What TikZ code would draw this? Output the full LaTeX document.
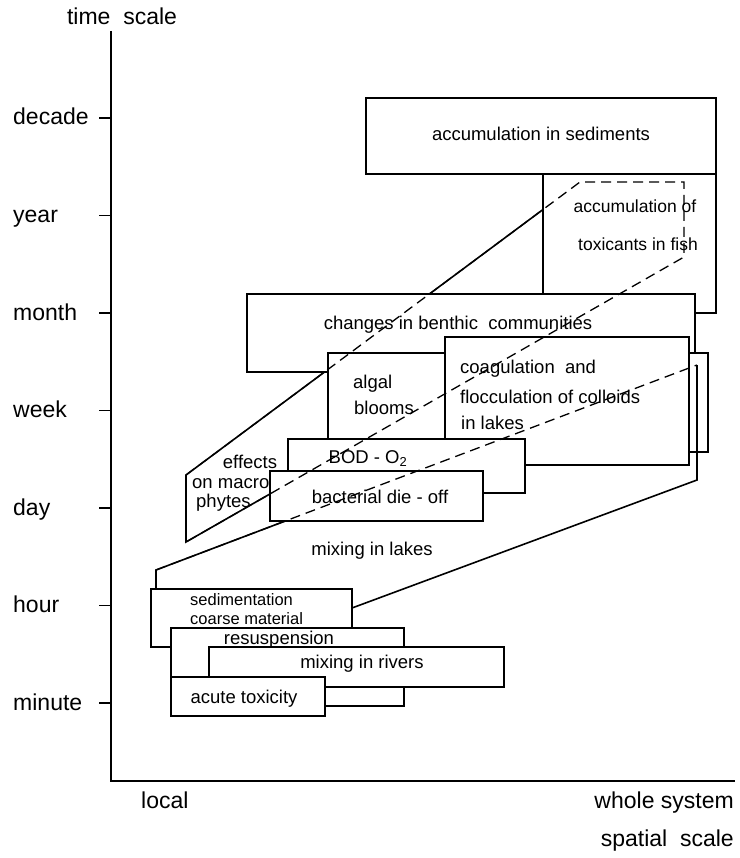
\documentclass[tikz,border=0pt]{standalone}
\usepackage{fontspec}
\setmainfont{Liberation Sans}
\begin{document}
\begin{tikzpicture}[x=1pt,y=-1pt,line join=miter,
  box/.style={draw,line width=1.6pt,fill=white},
  edge/.style={line width=1.6pt},
  hid/.style={line width=1.3pt,dash pattern=on 10pt off 6pt},
  lbl/.style={font=\fontsize{18.5}{20}\selectfont,inner sep=0pt},
  small/.style={font=\fontsize{17.5}{19}\selectfont,inner sep=0pt},
  tight/.style={font=\fontsize{16.5}{17}\selectfont,inner sep=0pt},
  axl/.style={font=\fontsize{23}{25}\selectfont,inner sep=0pt}]
\useasboundingbox (0,0) rectangle (739,858);
% axes
\coordinate (ytop) at (111,31);
\coordinate (orig) at (111,781);
\coordinate (xend) at (735,781);
\draw[edge] (ytop) -- (orig) -- (xend);
\node[axl,anchor=base] (tscale) at (122,25) {time\ \ scale};
\foreach \yy/\tt in {118/decade,215.5/year,313/month,410.5/week,508/day,605.5/hour,703/minute}{
  \coordinate (tk\tt) at (111,\yy);
  \draw[edge] (99,\yy) -- (tk\tt);
  \node[axl,anchor=base west] (lab\tt) at (13,{\yy+7}) {\tt};
}
\node[axl,anchor=base west] (local) at (141,808) {local};
\node[axl,anchor=base east] (whole) at (734,808) {whole system};
\node[axl,anchor=base east] (spatial) at (734,846) {spatial\ \ scale};
% planes (solid outline first)
\coordinate (m1) at (186,475);
\coordinate (m2) at (580,182);
\coordinate (m3) at (684,182);
\coordinate (m4) at (684,257);
\coordinate (m5) at (186,542);
\draw[edge] (m1) -- (m2) -- (m3) -- (m4) -- (m5) -- cycle;
\coordinate (l0) at (156,589);
\coordinate (l1) at (156,570);
\coordinate (l2) at (697,365);
\coordinate (l3) at (697,480);
\coordinate (l4) at (352,608);
\draw[edge] (l0) -- (l1) -- (l2) -- (l3) -- (l4);
\node[lbl,anchor=base] (effects) at (250,468) {effects};
\node[lbl,anchor=base west] (onmacro) at (192,488) {on macro};
\node[lbl,anchor=base west] (phytes) at (196,507) {phytes};
\node[lbl,anchor=base] (mixlakes) at (372,555) {mixing in lakes};
% boxes, back to front
\draw[box] (543,174) rectangle (716,313);
\node[small,anchor=base] (fish1) at (635,213) {accumulation of};
\node[small,anchor=base] (fish2) at (638,251) {toxicants in fish};
\draw[box] (366,98) rectangle (716,174);
\node[lbl,anchor=base] (sedim) at (541,141) {accumulation in sediments};
\draw[box] (247,294) rectangle (695,372);
\node[lbl,anchor=base] (benthic) at (458,329) {changes in benthic\ \ communities};
\draw[box] (328,353) rectangle (708,452);
\node[lbl,anchor=base west] (algal1) at (353,388) {algal};
\node[lbl,anchor=base west] (algal2) at (354,414) {blooms};
\draw[box] (445,337) rectangle (689,465);
\node[lbl,anchor=base west] (coag1) at (460,373) {coagulation\ \ and};
\node[lbl,anchor=base west] (coag2) at (460,403) {flocculation of\ colloids};
\node[lbl,anchor=base west] (coag3) at (461,429) {in lakes};
\draw[box] (288,439) rectangle (525,493);
\node[lbl,anchor=base] (bod) at (368,463) {BOD - O\textsubscript{2}};
\draw[box] (270,471) rectangle (483,521);
\node[lbl,anchor=base] (bact) at (380,503) {bacterial die - off};
\draw[box] (151,589) rectangle (352,647);
\node[tight,anchor=base west] (sed1) at (190,605) {sedimentation};
\node[tight,anchor=base west] (sed2) at (190,624) {coarse material};
\draw[box] (171,628) rectangle (404,706);
\node[lbl,anchor=base] (resus) at (279,644) {resuspension};
\draw[box] (209,647) rectangle (504,687);
\node[lbl,anchor=base] (rivers) at (362,668) {mixing in rivers};
\draw[box] (171,677) rectangle (325,716);
\node[lbl,anchor=base] (acute) at (244,703) {acute toxicity};
% hidden edges of the planes
\draw[hid] (m1) -- (m2) -- (m3) -- (m4) -- (m5) -- cycle;
\draw[hid] (l1) -- (l2);
\draw[edge] (l2) -- (l3);
\end{tikzpicture}
\end{document}
